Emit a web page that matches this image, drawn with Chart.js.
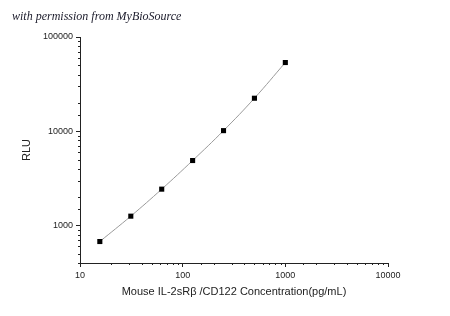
<!DOCTYPE html>
<html>
<head>
<meta charset="utf-8">
<script src="https://cdn.jsdelivr.net/npm/chart.js@4/dist/chart.umd.min.js"></script>
<style>
html,body{margin:0;padding:0;background:#fff;}
#wrap{width:450px;height:316px;}
</style>
</head>
<body>
<div id="wrap"><canvas id="c" width="450" height="316"></canvas></div>
<script>
const concentrations = [15.6, 31.25, 62.5, 125, 250, 500, 1000];
const rluValues = [676, 1256, 2430, 4890, 10150, 22400, 53600];
const xTickLabels = [10, 100, 1000, 10000];
const yTickLabels = [1000, 10000, 100000];
const watermark = 'with permission from MyBioSource';
const xTitle = 'Mouse IL-2sRβ /CD122 Concentration(pg/mL)';
const yTitle = 'RLU';

function isMajor(v, list){ return list.some(t => Math.abs(t - v) < 1e-6 * t); }

const minorTicks = {
  id: 'minorTicks',
  afterDraw(chart){
    const ctx = chart.ctx;
    ctx.save();
    ctx.strokeStyle = '#222';
    ctx.lineWidth = 1;
    const xs = chart.scales.x, ys = chart.scales.y;
    xs.ticks.forEach(t => {
      if (isMajor(t.value, xTickLabels)) return;
      const px = Math.round(xs.getPixelForValue(t.value)) + 0.5;
      ctx.beginPath(); ctx.moveTo(px, xs.top); ctx.lineTo(px, xs.top + 2); ctx.stroke();
    });
    ys.ticks.forEach(t => {
      if (isMajor(t.value, yTickLabels)) return;
      const py = Math.round(ys.getPixelForValue(t.value)) + 0.5;
      ctx.beginPath(); ctx.moveTo(ys.right, py); ctx.lineTo(ys.right - 2, py); ctx.stroke();
    });
    ctx.restore();
  }
};

const watermarkPlugin = {
  id: 'watermark',
  afterDraw(chart){
    const ctx = chart.ctx;
    ctx.save();
    ctx.font = 'italic 12px "Liberation Serif"';
    ctx.fillStyle = '#1a1a2a';
    ctx.textBaseline = 'alphabetic';
    ctx.fillText(watermark, 12, 20);
    ctx.restore();
  }
};

new Chart(document.getElementById('c'), {
  type: 'line',
  data: {
    datasets: [{
      data: concentrations.map((x, i) => ({x: x, y: rluValues[i]})),
      borderColor: '#9a9a9a',
      borderWidth: 1,
      tension: 0.4,
      pointStyle: 'rect',
      pointRadius: 3.6,
      pointBackgroundColor: '#000',
      pointBorderColor: '#000',
      pointBorderWidth: 0,
      fill: false
    }]
  },
  options: {
    responsive: false,
    animation: false,
    layout: {padding: {left: 0, right: 62, top: 37, bottom: 0}},
    plugins: {legend: {display: false}, tooltip: {enabled: false}},
    scales: {
      x: {
        type: 'logarithmic',
        min: 10, max: 10000,
        border: {display: true, color: '#222', width: 1},
        grid: {drawOnChartArea: false, drawTicks: true, tickLength: 4,
               tickColor: c => isMajor(c.tick.value, xTickLabels) ? '#222' : 'rgba(0,0,0,0)'},
        ticks: {autoSkip: false, maxRotation: 0, padding: 3, color: '#222',
                font: {family: '"Liberation Sans", Arial', size: 9},
                callback: v => isMajor(v, xTickLabels) ? String(Math.round(v)) : ''},
        title: {display: true, text: xTitle, color: '#222',
                font: {family: '"Liberation Sans", Arial', size: 11},
                padding: {top: 0, bottom: 17}},
        afterFit: s => { s.height = 53; }
      },
      y: {
        type: 'logarithmic',
        min: 400, max: 100000,
        border: {display: true, color: '#222', width: 1},
        grid: {drawOnChartArea: false, drawTicks: true, tickLength: 4,
               tickColor: c => isMajor(c.tick.value, yTickLabels) ? '#222' : 'rgba(0,0,0,0)'},
        ticks: {autoSkip: false, padding: 3, color: '#222',
                font: {family: '"Liberation Sans", Arial', size: 9},
                callback: v => isMajor(v, yTickLabels) ? String(Math.round(v)) : ''},
        title: {display: true, text: yTitle, color: '#222',
                font: {family: '"Liberation Sans", Arial', size: 11},
                padding: {top: 20, bottom: 0}},
        afterFit: s => { s.width = 80; }
      }
    }
  },
  plugins: [minorTicks, watermarkPlugin]
});
</script>
</body>
</html>
